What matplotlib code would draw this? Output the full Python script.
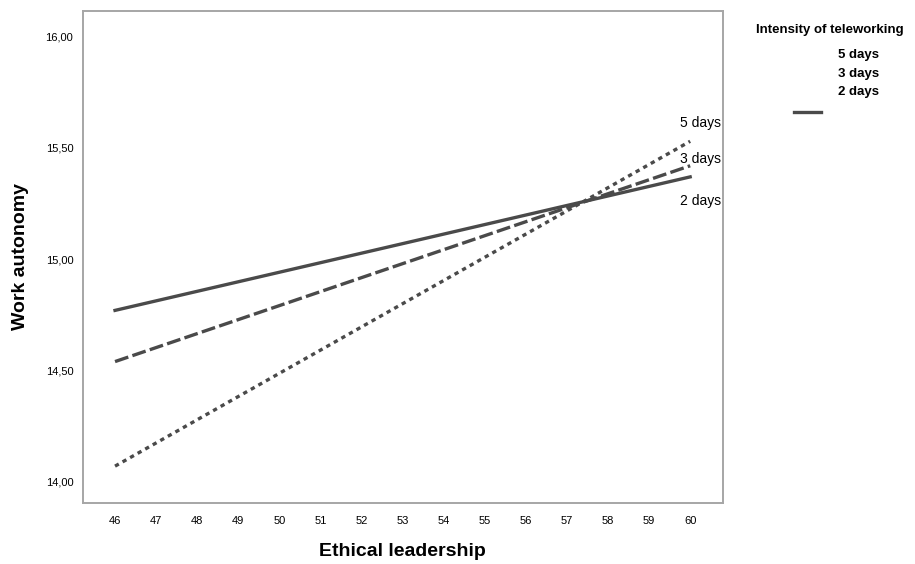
import matplotlib.pyplot as plt
from matplotlib import font_manager

# data
leadership = [46, 60]
days_labels = ["5 days", "3 days", "2 days"]
autonomy_5 = [14.07, 15.53]
autonomy_3 = [14.54, 15.42]
autonomy_2 = [14.77, 15.37]
x_ticks = list(range(46, 61))
y_ticks = [14.0, 14.5, 15.0, 15.5, 16.0]

names = {f.name for f in font_manager.fontManager.ttflist}
if "Liberation Sans Narrow" in names:
    fam = ["Liberation Sans Narrow", "DejaVu Sans"]
else:
    fam = ["Liberation Sans", "DejaVu Sans"]
plt.rcParams["font.family"] = fam

line_col = "#4a4a4a"
fig = plt.figure(figsize=(9.15, 5.64), dpi=100)
ax = fig.add_axes([0.0907, 0.108, 0.6995, 0.8723])

ax.plot(leadership, autonomy_5, color=line_col, lw=2.4, dashes=(1.3, 1.3))
ax.plot(leadership, autonomy_3, color=line_col, lw=2.4, dashes=(4.2, 1.3))
ax.plot(leadership, autonomy_2, color=line_col, lw=2.4)

# line end labels
ax.text(60.75, 15.61, days_labels[0], ha="right", va="center", fontsize=10)
ax.text(60.75, 15.45, days_labels[1], ha="right", va="center", fontsize=10)
ax.text(60.75, 15.26, days_labels[2], ha="right", va="center", fontsize=10)

ax.set_xlim(45.22, 60.80)
ax.set_ylim(13.904, 16.115)
ax.set_xticks(x_ticks)
ax.set_yticks(y_ticks)
ax.set_yticklabels([("%.2f" % v).replace(".", ",") for v in y_ticks])
ax.tick_params(axis="both", length=0, labelsize=8)
ax.tick_params(axis="x", pad=9)
ax.tick_params(axis="y", pad=7)
for s in ax.spines.values():
    s.set_color("#a6a6a6")
    s.set_linewidth(1.4)

# axis titles
fig.text(402 / 915, 1 - 551 / 564, "Ethical leadership", ha="center", va="center",
         fontsize=14, fontweight="bold")
fig.text(21 / 915, 1 - 257 / 564, "Work autonomy", ha="center", va="center",
         fontsize=14, fontweight="bold", rotation=90)

# legend, drawn as in the original
fig.text(830 / 915, 1 - 30 / 564, "Intensity of teleworking", ha="center", va="center",
         fontsize=9.5, fontweight="bold")
for i, lab in enumerate(days_labels):
    fig.text(838 / 915, 1 - (55 + i * 18.5) / 564, lab, ha="left", va="center",
             fontsize=9.5, fontweight="bold")
fig.add_artist(plt.Line2D([794 / 915, 821 / 915], [1 - 112 / 564, 1 - 112 / 564],
                          color=line_col, lw=2.4))

fig.savefig("out.png", dpi=100)
